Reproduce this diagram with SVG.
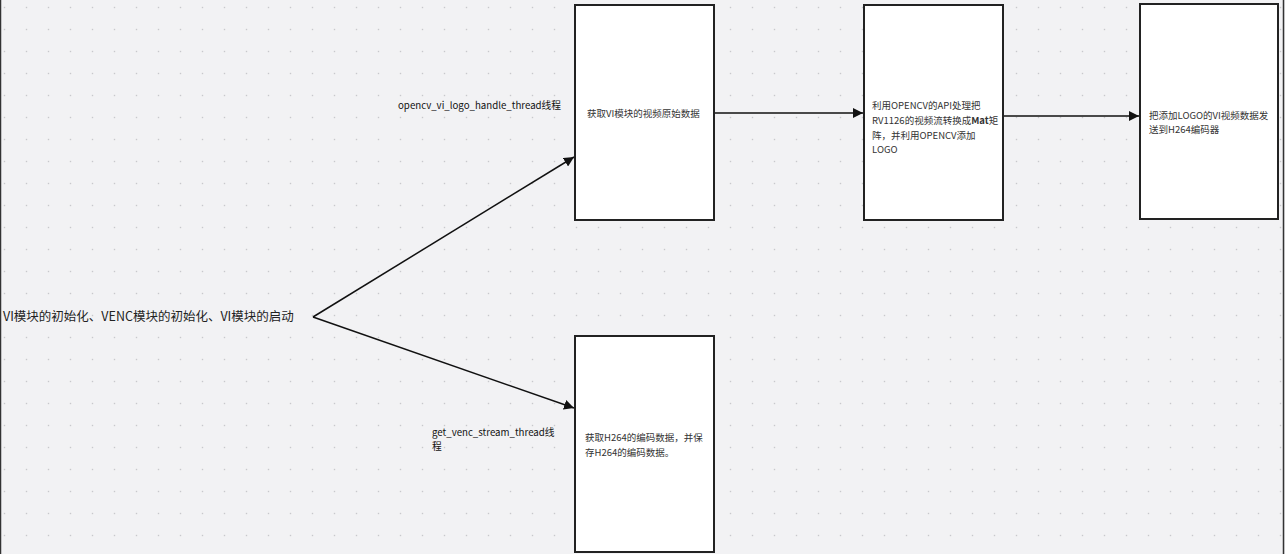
<svg xmlns="http://www.w3.org/2000/svg" width="1285" height="554" viewBox="0 0 1285 554">
<defs>
<pattern id="dots" x="0" y="0" width="22" height="22" patternUnits="userSpaceOnUse">
<rect x="3.8" y="6.8" width="1.4" height="1.4" fill="#c8c8cc"/>
</pattern>
<marker id="ah" viewBox="0 0 10 10" refX="10" refY="5" markerWidth="10" markerHeight="10" markerUnits="userSpaceOnUse" orient="auto">
<path d="M0,0 L10,5 L0,10 z" fill="#111"/>
</marker>
<style>
.box{fill:#fff;stroke:#222;stroke-width:2}
.t{font-family:"Noto Sans CJK SC","Noto Sans",sans-serif;fill:#222}
.bt{font-family:"Noto Sans CJK SC","Noto Sans",sans-serif;fill:#333;font-size:9.5px}
.lbl{font-family:"Noto Sans CJK SC","Noto Sans",sans-serif;fill:#111;font-size:9.7px}
.c{stroke:#111;stroke-width:1.5;fill:none;marker-end:url(#ah)}
</style>
</defs>
<rect width="1285" height="554" fill="#f2f2f4"/>
<rect width="1285" height="554" fill="url(#dots)"/>
<line x1="0.5" y1="0" x2="0.5" y2="554" stroke="#333" stroke-width="1.5"/>
<line x1="1283.5" y1="0" x2="1283.5" y2="554" stroke="#333" stroke-width="1.5"/>
<g id="connectors">
<line class="c" x1="313" y1="317" x2="574" y2="157"/>
<line class="c" x1="313" y1="317" x2="574" y2="408"/>
<line class="c" x1="714" y1="113" x2="863" y2="113"/>
<line class="c" x1="1003" y1="116" x2="1139" y2="116"/>
</g>
<g id="start">
<text class="t" x="3" y="321" font-size="12.5">VI模块的初始化、VENC模块的初始化、VI模块的启动</text>
</g>
<g id="label-opencv">
<text class="lbl" x="398" y="109">opencv_vi_logo_handle_thread线程</text>
</g>
<g id="label-venc">
<text class="lbl" x="432" y="436">get_venc_stream_thread线</text>
<text class="lbl" x="432" y="450">程</text>
</g>
<g id="box-vi">
<rect class="box" x="575" y="5" width="139" height="215"/>
<text class="bt" x="587" y="117">获取VI模块的视频原始数据</text>
</g>
<g id="box-opencv">
<rect class="box" x="864" y="5" width="139" height="215"/>
<text class="bt" x="872" y="109">利用OPENCV的API处理把</text>
<text class="bt" x="872" y="124">RV1126的视频流转换成<tspan font-weight="bold">Mat</tspan>矩</text>
<text class="bt" x="872" y="139">阵，并利用OPENCV添加</text>
<text class="bt" x="872" y="153">LOGO</text>
</g>
<g id="box-h264">
<rect class="box" x="1140" y="4" width="138" height="215"/>
<text class="bt" x="1149" y="119">把添加LOGO的VI视频数据发</text>
<text class="bt" x="1149" y="133">送到H264编码器</text>
</g>
<g id="box-venc">
<rect class="box" x="575" y="336" width="139" height="216"/>
<text class="bt" x="585" y="441">获取H264的编码数据，并保</text>
<text class="bt" x="585" y="456">存H264的编码数据。</text>
</g>
</svg>
